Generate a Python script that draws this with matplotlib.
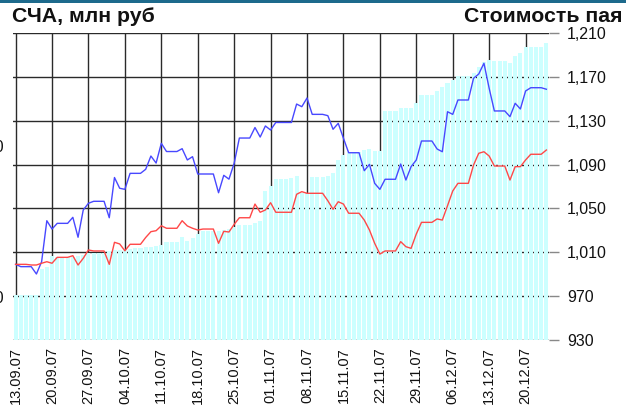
import matplotlib
matplotlib.use("Agg")
import matplotlib.pyplot as plt
import numpy as np
import pandas as pd
from matplotlib.patches import Rectangle

# ---------------- data ----------------
dates = pd.date_range("2007-09-13", "2007-12-24", freq="D")

# Net asset value (СЧА), mln rub  (left axis)
nav = [100.5, 100.5, 100.5, 100.5, 100.5, 109.2, 109.9, 113.6, 113.3, 113.3,
       113.3, 113.3, 113.5, 113.9, 114.7, 114.7, 114.7, 114.7, 115.3, 115.6,
       115.6, 115.6, 115.8, 116.1, 116.2, 116.6, 116.7, 116.9, 117.2, 118.3,
       118.3, 118.3, 119.8, 118.7, 119.4, 120.9, 121.7, 121.7, 121.7, 121.7,
       122.1, 122.5, 123.2, 123.8, 123.8, 123.8, 124.5, 125.2, 135.1, 136.7,
       139.0, 139.0, 139.0, 139.4, 140.1, 134.4, 134.4, 139.8, 139.8, 139.8,
       140.2, 141.2, 145.4, 147.0, 147.9, 147.9, 147.9, 148.7, 149.0, 148.5,
       148.5, 161.7, 161.7, 161.7, 162.7, 162.7, 162.7, 164.3, 166.9, 166.9,
       166.9, 168.3, 169.4, 170.8, 171.9, 173.3, 173.3, 173.3, 174.1, 176.3,
       177.9, 178.5, 178.1, 178.1, 178.1, 177.4, 179.9, 180.9, 182.9, 182.9,
       182.9, 182.9, 184.2]

# Blue series (right axis)
blue = [999.0, 996.9, 996.9, 996.9, 990.2, 1001.4, 1038.8, 1031.2, 1036.4, 1036.4,
        1036.4, 1041.9, 1023.7, 1048.6, 1054.7, 1056.5, 1056.5, 1056.5, 1041.5, 1078.2,
        1068.4, 1067.4, 1082.0, 1082.0, 1082.0, 1085.7, 1097.8, 1091.4, 1109.4, 1101.9,
        1101.9, 1101.9, 1104.5, 1094.2, 1097.2, 1081.4, 1081.4, 1081.4, 1081.4, 1064.3,
        1080.2, 1076.7, 1091.2, 1114.2, 1114.2, 1114.2, 1123.8, 1115.1, 1125.2, 1121.5,
        1128.4, 1128.4, 1128.4, 1128.4, 1145.2, 1142.8, 1150.7, 1135.8, 1135.8, 1135.8,
        1134.6, 1122.2, 1127.6, 1114.0, 1100.8, 1100.8, 1100.8, 1084.4, 1090.2, 1072.9,
        1067.4, 1076.6, 1076.6, 1076.6, 1090.5, 1075.9, 1088.1, 1094.2, 1111.5, 1111.5,
        1111.5, 1104.2, 1101.7, 1138.2, 1135.8, 1148.9, 1148.9, 1148.9, 1168.7, 1172.6,
        1182.4, 1159.6, 1138.9, 1138.9, 1138.9, 1133.7, 1145.9, 1140.7, 1157.1, 1160.1,
        1160.1, 1160.1, 1158.7]

# Red series: unit value (Стоимость пая), right axis
red = [999.0, 999.0, 999.0, 998.4, 998.4, 1000.0, 1001.4, 1000.0, 1005.4, 1005.4,
       1005.4, 1006.9, 998.4, 1004.5, 1012.1, 1011.2, 1011.2, 1011.2, 999.0, 1019.1,
       1017.6, 1011.4, 1017.3, 1017.3, 1017.3, 1023.5, 1028.8, 1029.7, 1034.2, 1031.9,
       1031.9, 1031.9, 1038.8, 1034.0, 1031.9, 1030.3, 1031.2, 1031.2, 1031.2, 1018.2,
       1029.1, 1028.5, 1035.5, 1041.5, 1041.5, 1041.5, 1054.0, 1046.5, 1048.6, 1055.2,
       1046.5, 1046.5, 1046.5, 1046.5, 1062.9, 1065.3, 1063.8, 1063.8, 1063.8, 1063.8,
       1057.0, 1049.2, 1056.1, 1054.0, 1045.6, 1045.6, 1045.6, 1039.4, 1030.3, 1018.2,
       1008.4, 1011.2, 1011.2, 1011.2, 1019.7, 1015.1, 1013.6, 1026.7, 1037.3, 1037.3,
       1037.3, 1040.4, 1039.4, 1052.5, 1065.9, 1072.9, 1072.9, 1072.9, 1089.6, 1100.3,
       1101.7, 1097.8, 1088.7, 1088.7, 1088.7, 1075.9, 1088.1, 1088.1, 1094.2, 1099.4,
       1099.4, 1099.4, 1103.3]

right_ticks = [930, 970, 1010, 1050, 1090, 1130, 1170, 1210]
left_ticks = [100, 150]
title_left = "СЧА, млн руб"
title_right = "Стоимость пая"

# ---------------- figure ----------------
W, H, DPI = 626, 408, 100
fig = plt.figure(figsize=(W / DPI, H / DPI), dpi=DPI)
fig.patch.set_facecolor("white")
plt.rcParams["font.family"] = ["Liberation Sans", "DejaVu Sans"]

pos = [13 / W, 1 - 340 / H, (549 - 13) / W, (340 - 33) / H]
x = np.arange(len(dates))

# bottom axes: grid + right tick labels
ax_grid = fig.add_axes(pos, zorder=0)
ax_grid.set_ylim(930, 1210)
ax_grid.set_xlim(-0.5, len(dates) - 0.5)
ax_grid.set_yticks(right_ticks)
ax_grid.set_yticklabels([f"{v:,}" for v in right_ticks], fontsize=11.5, color="#111111")
ax_grid.yaxis.tick_right()
ax_grid.tick_params(axis="y", which="both", length=7, width=1, color="#888888", pad=6,
                    left=False, right=True)
xt = x[::7]
ax_grid.set_xticks(xt)
ax_grid.set_xticklabels([dates[i].strftime("%d.%m.%y") for i in xt], rotation=90,
                        fontsize=10.5, color="#111111")
ax_grid.tick_params(axis="x", length=0, pad=5)
ax_grid.grid(True, color="#2a2a2a", linewidth=1.0)
for s in ax_grid.spines.values():
    s.set_visible(False)

# middle axes: bars on left scale (its labels run off the left edge, as in the source)
ax_bar = fig.add_axes(pos, zorder=1, sharex=ax_grid)
ax_bar.patch.set_visible(False)
ax_bar.bar(x, nav, width=0.78, color="#ccffff", edgecolor="none")
ax_bar.set_ylim(100 - 43 / 151 * 50, 150 + 113 / 151 * 50)
ax_bar.set_yticks(left_ticks)
ax_bar.set_yticklabels([str(v) for v in left_ticks], fontsize=11.5, color="#111111")
ax_bar.tick_params(axis="y", length=0, pad=6.5)
ax_bar.tick_params(axis="x", which="both", bottom=False, labelbottom=False)
for s in ax_bar.spines.values():
    s.set_visible(False)

# top axes: lines on right scale
ax_line = fig.add_axes(pos, zorder=2, sharex=ax_grid)
ax_line.patch.set_visible(False)
ax_line.set_ylim(930, 1210)
ax_line.plot(x, blue, color="#4848ff", linewidth=1.0)
ax_line.plot(x, red, color="#ff4848", linewidth=1.0)
ax_line.set_yticks([])
ax_line.tick_params(axis="x", which="both", bottom=False, labelbottom=False)
for s in ax_line.spines.values():
    s.set_visible(False)

# titles
fig.text(12 / W, 1 - 17 / H, title_left, fontsize=15.3, fontweight="bold",
         ha="left", va="center", color="#111111")
fig.text(622 / W, 1 - 17 / H, title_right, fontsize=15.3, fontweight="bold",
         ha="right", va="center", color="#111111")

# top band
fig.patches.append(Rectangle((0, 1 - 2.5 / H), 1, 2.5 / H, transform=fig.transFigure,
                             facecolor="#1d6a8c", edgecolor="none", zorder=5))

fig.savefig("out.png", dpi=DPI)
